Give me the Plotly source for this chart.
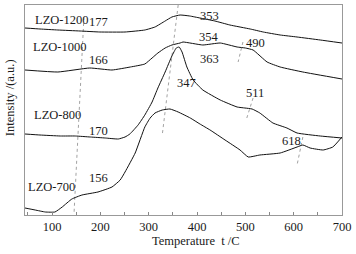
import plotly.graph_objects as go

# Temperature (°C) and intensity (a.u.)
t_1200 = [44, 75, 112, 158, 199, 251, 292, 313, 334, 348, 365, 385, 406, 437, 468, 510, 537, 572, 607, 655, 700]
i_1200 = [187, 186, 185, 184, 183, 183, 185, 188, 194, 198, 200, 199, 197, 194, 190, 186, 183, 180, 178, 175, 172]

t_1000 = [44, 112, 178, 224, 262, 292, 307, 319, 334, 348, 365, 371, 412, 448, 483, 500, 516, 545, 572, 619, 700]
i_1000 = [145, 143, 147, 145, 148, 151, 157, 162, 167, 170, 172, 173, 170, 172, 168, 167, 165, 153, 148, 143, 136]

t_800 = [44, 75, 117, 148, 179, 210, 237, 251, 261, 278, 292, 307, 319, 334, 348, 357, 363, 369, 379, 392,
         412, 448, 483, 499, 514, 530, 557, 586, 607, 655, 700]
i_800 = [81, 80, 79, 79, 78, 77, 76, 78, 81, 90, 100, 113, 127, 143, 159, 167, 168, 163, 148, 135,
         125, 115, 108, 107, 106, 102, 92, 87, 82, 79, 77]

t_700 = [44, 65, 86, 106, 121, 141, 162, 195, 224, 241, 251, 272, 292, 303, 313, 328, 344, 361, 386, 406,
         427, 458, 489, 506, 530, 572, 607, 619, 634, 661, 681, 700]
i_700 = [7, 5, 3, 3, 8, 16, 20, 23, 28, 35, 43, 62, 88, 97, 102, 105, 106, 103, 97, 91,
         85, 75, 65, 58, 60, 62, 68, 70, 67, 65, 68, 78]

series = [("LZO-1200", t_1200, i_1200), ("LZO-1000", t_1000, i_1000),
          ("LZO-800", t_800, i_800), ("LZO-700", t_700, i_700)]

# Peak guide lines (start/end temperature and intensity)
guide_t = [[166, 145.5], [361, 328], [495, 485], [516, 503], [619, 607]]
guide_i = [[198, 2], [210, 80], [173, 153], [117, 97], [78, 50]]

# Text labels
label_text = ["LZO-1200", "177", "LZO-1000", "166", "LZO-800", "170", "LZO-700", "156",
              "353", "354", "490", "363", "347", "511", "618"]
label_t = [120, 196, 115.5, 197, 111, 197, 99, 197, 425, 425, 520, 425, 379, 520, 594.5]
label_i = [195, 193, 168, 155, 100, 84, 28, 37, 199, 178, 172, 156, 132, 122, 74]

x_ticks = [100, 200, 300, 400, 500, 600, 700]

FONT = "Liberation Serif, Times New Roman, serif"
TXT = "#1a1a1a"

fig = go.Figure()
for gt, gi in zip(guide_t, guide_i):
    fig.add_trace(go.Scatter(x=gt, y=gi, mode="lines",
                             line=dict(color="#8a8a8a", width=0.8, dash="dot"),
                             showlegend=False, hoverinfo="skip"))
for name, t, i in series:
    fig.add_trace(go.Scatter(x=t, y=i, mode="lines", name=name,
                             line=dict(color="#111111", width=1, shape="spline", smoothing=0.4),
                             showlegend=False))

for txt, tx, iy in zip(label_text, label_t, label_i):
    fig.add_annotation(x=tx, y=iy, text=txt, showarrow=False,
                       font=dict(family=FONT, size=12.5, color=TXT),
                       xanchor="center", yanchor="middle")

fig.add_annotation(xref="paper", yref="paper", x=0.539, y=-0.124, text="Temperature  t /C",
                   showarrow=False, font=dict(family=FONT, size=12.5, color=TXT),
                   xanchor="center", yanchor="middle")
fig.add_annotation(xref="paper", yref="paper", x=-0.047, y=0.557, text="Intensity /(a.u.)",
                   textangle=-90, showarrow=False,
                   font=dict(family=FONT, size=12.5, color=TXT),
                   xanchor="center", yanchor="middle")

fig.update_xaxes(range=[44, 700], tickvals=x_ticks, ticktext=[str(v) for v in x_ticks],
                 ticks="inside", ticklen=3, tickcolor="#888888",
                 minor=dict(dtick=50, tick0=0, ticks="inside", ticklen=3, tickcolor="#888888"),
                 showline=True, linecolor="#999999", linewidth=1, mirror=True,
                 showgrid=False, zeroline=False,
                 tickfont=dict(family=FONT, size=12.5, color=TXT))
fig.update_yaxes(range=[0, 210], showticklabels=False, ticks="",
                 showline=True, linecolor="#999999", linewidth=1, mirror=True,
                 showgrid=False, zeroline=False)

fig.update_layout(width=356, height=254, margin=dict(l=25, r=14, t=5, b=39),
                  plot_bgcolor="white", paper_bgcolor="white", hovermode=False)

fig.write_html("out.html", config={"displayModeBar": False},
               post_script="document.body.style.margin='0px';")
